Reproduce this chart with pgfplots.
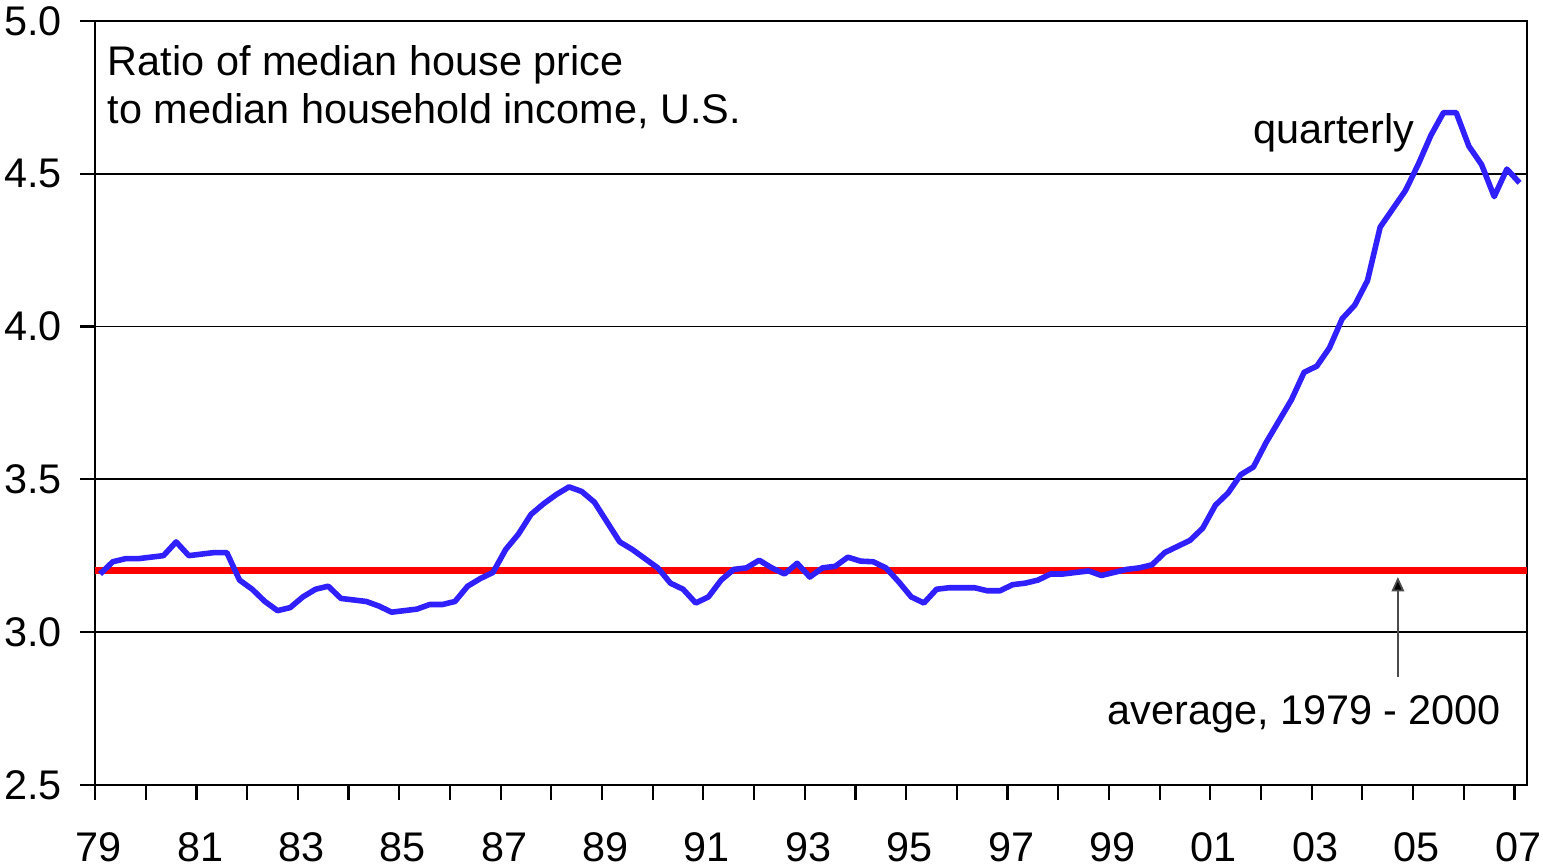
\documentclass[border=0pt]{standalone}
\usepackage{fontspec}
\setmainfont{Liberation Sans}
\usepackage{pgfplots}
\pgfplotsset{compat=1.18}
\usetikzlibrary{arrows.meta}
\definecolor{lineblue}{RGB}{48,32,255}
\definecolor{avgred}{RGB}{255,0,0}
\begin{document}
\fontsize{11.5}{13.2}\selectfont
\begin{tikzpicture}
\useasboundingbox (-26.4pt,-22.8pt) rectangle (402.2pt,218pt);
\begin{axis}[
 at={(0,0)}, anchor=south west,
 scale only axis, width=397.8pt, height=212.2pt,
 xmin=1979, xmax=2007.25, ymin=2.5, ymax=5,
 xtick={1979,1981,1983,1985,1987,1989,1991,1993,1995,1997,1999,2001,2003,2005,2007},
 xticklabels={79,81,83,85,87,89,91,93,95,97,99,01,03,05,07},
 minor xtick={1980,1982,1984,1986,1988,1990,1992,1994,1996,1998,2000,2002,2004,2006},
 ytick={2.5,3,3.5,4,4.5,5}, yticklabels={2.5,3.0,3.5,4.0,4.5,5.0},
 tick pos=left, tick align=outside,
 major tick length=4.2pt, minor tick length=4.2pt,
 tick style={black, line width=0.6pt},
 ymajorgrids, grid style={black, line width=0.5pt},
 axis line style={black, line width=0.6pt},
 ticklabel style={font=\fontsize{11.5}{13.2}\selectfont},
 xticklabel style={yshift=-5pt, xshift=1pt},
 yticklabel style={xshift=-1pt},
 clip=false,
]
\addplot[avgred, line width=1.9pt] coordinates {(1979,3.20) (2007.25,3.20)};
\addplot[lineblue, line width=1.55pt, line join=round] coordinates {
(1979.10,3.19) (1979.35,3.23) (1979.60,3.24) (1979.85,3.24)
(1980.10,3.245) (1980.35,3.25) (1980.60,3.295) (1980.85,3.25)
(1981.10,3.255) (1981.35,3.26) (1981.60,3.26) (1981.85,3.17)
(1982.10,3.14) (1982.35,3.10) (1982.60,3.07) (1982.85,3.08)
(1983.10,3.115) (1983.35,3.14) (1983.60,3.15) (1983.85,3.11)
(1984.10,3.105) (1984.35,3.10) (1984.60,3.085) (1984.85,3.065)
(1985.10,3.07) (1985.35,3.075) (1985.60,3.09) (1985.85,3.09)
(1986.10,3.10) (1986.35,3.15) (1986.60,3.175) (1986.85,3.195)
(1987.10,3.27) (1987.35,3.32) (1987.60,3.385) (1987.85,3.42)
(1988.10,3.45) (1988.35,3.475) (1988.60,3.46) (1988.85,3.425)
(1989.10,3.36) (1989.35,3.295) (1989.60,3.27) (1989.85,3.24)
(1990.10,3.21) (1990.35,3.16) (1990.60,3.14) (1990.85,3.095)
(1991.10,3.115) (1991.35,3.17) (1991.60,3.205) (1991.85,3.21)
(1992.10,3.235) (1992.35,3.21) (1992.60,3.19) (1992.85,3.225)
(1993.10,3.18) (1993.35,3.21) (1993.60,3.215) (1993.85,3.245)
(1994.10,3.232) (1994.35,3.23) (1994.60,3.21) (1994.85,3.165)
(1995.10,3.115) (1995.35,3.095) (1995.60,3.14) (1995.85,3.145)
(1996.10,3.145) (1996.35,3.145) (1996.60,3.135) (1996.85,3.135)
(1997.10,3.155) (1997.35,3.16) (1997.60,3.17) (1997.85,3.19)
(1998.10,3.19) (1998.35,3.195) (1998.60,3.20) (1998.85,3.185)
(1999.10,3.195) (1999.35,3.205) (1999.60,3.21) (1999.85,3.22)
(2000.10,3.26) (2000.35,3.28) (2000.60,3.30) (2000.85,3.34)
(2001.10,3.415) (2001.35,3.455) (2001.60,3.515) (2001.85,3.54)
(2002.10,3.62) (2002.35,3.69) (2002.60,3.76) (2002.85,3.85)
(2003.10,3.87) (2003.35,3.93) (2003.60,4.025) (2003.85,4.07)
(2004.10,4.15) (2004.35,4.325) (2004.60,4.385) (2004.85,4.445)
(2005.10,4.53) (2005.35,4.625) (2005.60,4.70) (2005.85,4.70)
(2006.10,4.59) (2006.35,4.53) (2006.60,4.425) (2006.85,4.515)
(2007.10,4.47)
};
\node[anchor=north west, inner sep=0pt, align=left] at (axis cs:1979.24,4.921)
  {Ratio of median house price\\to median household income, U.S.};
\node[anchor=base east, inner sep=0pt] at (axis cs:2005.04,4.60) {quarterly};
\node[anchor=base east, inner sep=0pt] at (axis cs:2006.75,2.696) {average, 1979 - 2000};
\draw[black!70, line width=0.5pt, -{Triangle[length=4pt,width=3.5pt,fill=black]}]
  (axis cs:2004.70,2.853) -- (axis cs:2004.70,3.18);
\end{axis}
\end{tikzpicture}
\end{document}
